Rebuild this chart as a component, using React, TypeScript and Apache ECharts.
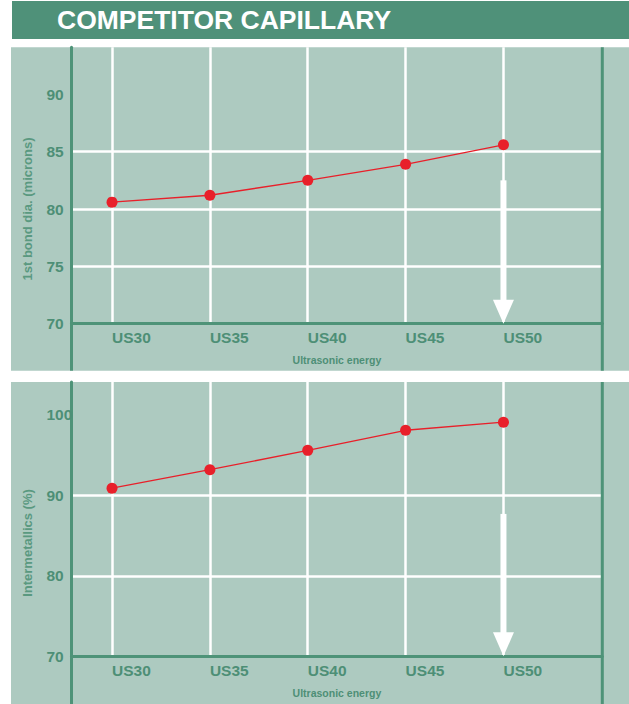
import React, { useEffect, useRef } from 'react';
import * as echarts from 'echarts';

// ---- data ----
const categories = ['US30', 'US35', 'US40', 'US45', 'US50'];
const energy = [30, 35, 40, 45, 50];
const bondDia = [80.6, 81.2, 82.5, 83.9, 85.6];
const intermetallics = [90.9, 93.2, 95.6, 98.1, 99.1];
const bondTicks = [70, 75, 80, 85, 90];
const interTicks = [70, 80, 90, 100];
const bondArrow = [50, 82.5, 70];
const interArrow = [50, 87.7, 70];
const titleText = 'COMPETITOR CAPILLARY';
const xName = 'Ultrasonic energy';
const bondName = '1st bond dia. (microns)';
const interName = 'Intermetallics (%)';

// ---- styling / layout ----
const W = 629;
const H = 704;
const FONT = '"Liberation Sans", Arial, Helvetica, sans-serif';
const GREEN = '#4f9179';
const AXIS = '#4e9378';
const LABEL = '#4d8f76';
const NAME = '#5a9980';
const PANEL = '#adcac0';
const RED = '#e8202a';

const AX_X = 71.5;
const RIGHT_X = 602.3;
const P1_TOP = 47.3;
const P1_BOT = 370.7;
const P2_TOP = 382;
const P2_BOT = 704;
const X1_Y = 323.7;
const X2_Y = 656.3;

const labelFor = (v: number) => {
  const i = energy.indexOf(v);
  return i >= 0 ? categories[i] : '';
};

function makeX(gridIndex: number) {
  return {
    type: 'value',
    gridIndex,
    min: 27.93,
    max: 55.05,
    axisLine: { show: true, lineStyle: { color: AXIS, width: 3 } },
    axisTick: { show: false, customValues: energy },
    axisLabel: {
      customValues: energy,
      formatter: (v: number) => labelFor(v),
      align: 'left',
      margin: 6,
      color: LABEL,
      fontSize: 15.5,
      fontWeight: 'bold',
      fontFamily: FONT,
    },
    splitLine: { show: true, lineStyle: { color: '#ffffff', width: 2.5 } },
    name: xName,
    nameLocation: 'middle',
    nameGap: 31,
    nameTextStyle: { color: LABEL, fontSize: 10.5, fontWeight: 'bold', fontFamily: FONT },
  };
}

function makeY(gridIndex: number, max: number, ticks: number[]) {
  return {
    type: 'value',
    gridIndex,
    min: 70,
    max,
    axisLine: { show: true, lineStyle: { color: AXIS, width: 3 } },
    axisTick: { show: false, customValues: ticks },
    axisLabel: {
      customValues: ticks,
      align: 'left',
      margin: 25,
      color: LABEL,
      fontSize: 15.5,
      fontWeight: 'bold',
      fontFamily: FONT,
    },
    splitLine: {
      show: true,
      showMinLine: false,
      showMaxLine: false,
      lineStyle: { color: '#ffffff', width: 2.5 },
    },
  };
}

const arrowRender = (params: any, api: any) => {
  const x = api.value(0);
  const start = api.coord([x, api.value(1)]);
  const end = api.coord([x, api.value(2)]);
  const headLen = 24;
  const headHalf = 10.5;
  const shaftHalf = 3;
  const baseY = end[1] - headLen;
  return {
    type: 'group',
    children: [
      {
        type: 'rect',
        shape: { x: start[0] - shaftHalf, y: start[1], width: shaftHalf * 2, height: baseY - start[1] + 1 },
        style: { fill: '#ffffff' },
      },
      {
        type: 'polygon',
        shape: { points: [[end[0] - headHalf, baseY], [end[0] + headHalf, baseY], [end[0], end[1]]] },
        style: { fill: '#ffffff' },
      },
    ],
  };
};

export default function App() {
  const ref = useRef<HTMLDivElement>(null);

  useEffect(() => {
    if (!ref.current) return;
    const chart = echarts.init(ref.current, undefined, { renderer: 'svg', width: W, height: H });
    const vline = (x: number, y1: number, y2: number) => ({
      type: 'line',
      z: 10,
      shape: { x1: x, y1, x2: x, y2 },
      style: { stroke: AXIS, lineWidth: 3 },
    });
    chart.setOption({
      animation: false,
      backgroundColor: '#ffffff',
      grid: [
        { left: AX_X, width: RIGHT_X - AX_X, top: P1_TOP, height: X1_Y - P1_TOP },
        { left: AX_X, width: RIGHT_X - AX_X, top: P2_TOP, height: X2_Y - P2_TOP },
      ],
      xAxis: [makeX(0), makeX(1)],
      yAxis: [makeY(0, 94.1, bondTicks), makeY(1, 104.1, interTicks)],
      graphic: [
        { type: 'rect', z: -10, shape: { x: 12, y: 1, width: W - 12, height: 38 }, style: { fill: GREEN } },
        {
          type: 'text',
          z: 10,
          x: 57,
          y: 20,
          style: {
            text: titleText,
            fill: '#ffffff',
            font: `bold 26.5px ${FONT}`,
            textAlign: 'left',
            textVerticalAlign: 'middle',
          },
        },
        { type: 'rect', z: -10, shape: { x: 11, y: P1_TOP, width: W - 11, height: P1_BOT - P1_TOP }, style: { fill: PANEL } },
        { type: 'rect', z: -10, shape: { x: 11, y: P2_TOP, width: W - 11, height: P2_BOT - P2_TOP }, style: { fill: PANEL } },
        vline(AX_X, X1_Y, P1_BOT),
        vline(AX_X, X2_Y, P2_BOT),
        vline(RIGHT_X, P1_TOP, P1_BOT),
        vline(RIGHT_X, P2_TOP, P2_BOT),
        {
          type: 'text',
          z: 10,
          x: 27.5,
          y: (P1_TOP + P1_BOT) / 2,
          rotation: Math.PI / 2,
          style: {
            text: bondName,
            fill: NAME,
            font: `bold 13px ${FONT}`,
            textAlign: 'center',
            textVerticalAlign: 'middle',
          },
        },
        {
          type: 'text',
          z: 10,
          x: 27.5,
          y: (P2_TOP + P2_BOT) / 2,
          rotation: Math.PI / 2,
          style: {
            text: interName,
            fill: NAME,
            font: `bold 13px ${FONT}`,
            textAlign: 'center',
            textVerticalAlign: 'middle',
          },
        },
      ],
      series: [
        {
          type: 'custom',
          xAxisIndex: 0,
          yAxisIndex: 0,
          z: 3,
          renderItem: arrowRender,
          data: [bondArrow],
          silent: true,
        },
        {
          type: 'custom',
          xAxisIndex: 1,
          yAxisIndex: 1,
          z: 3,
          renderItem: arrowRender,
          data: [interArrow],
          silent: true,
        },
        {
          type: 'line',
          xAxisIndex: 0,
          yAxisIndex: 0,
          z: 5,
          data: energy.map((x, i) => [x, bondDia[i]]),
          symbol: 'circle',
          symbolSize: 11,
          itemStyle: { color: RED },
          lineStyle: { color: RED, width: 1.3 },
        },
        {
          type: 'line',
          xAxisIndex: 1,
          yAxisIndex: 1,
          z: 5,
          data: energy.map((x, i) => [x, intermetallics[i]]),
          symbol: 'circle',
          symbolSize: 11,
          itemStyle: { color: RED },
          lineStyle: { color: RED, width: 1.3 },
        },
      ],
    });
    return () => chart.dispose();
  }, []);

  return (
    <div
      ref={ref}
      style={{ position: 'absolute', left: 0, top: 0, width: W, height: H, background: '#ffffff' }}
    />
  );
}
